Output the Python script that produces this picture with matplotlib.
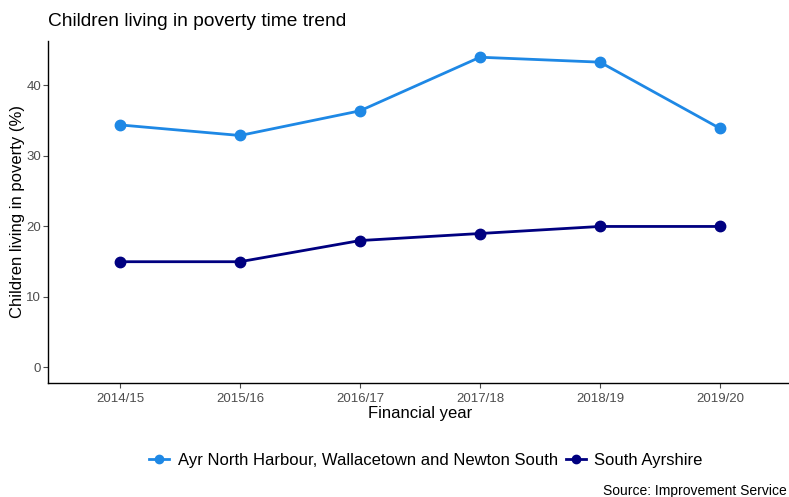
import matplotlib.pyplot as plt
from matplotlib.lines import Line2D

plt.rcParams['font.family'] = ['Liberation Sans', 'DejaVu Sans']

years = ["2014/15", "2015/16", "2016/17", "2017/18", "2018/19", "2019/20"]
ayr_north = [34.4, 32.9, 36.4, 44.0, 43.3, 33.9]
south_ayrshire = [15, 15, 18, 19, 20, 20]

series = [
    ("Ayr North Harbour, Wallacetown and Newton South", ayr_north, "#1E88E5"),
    ("South Ayrshire", south_ayrshire, "#000080"),
]

W, H = 789, 497
fig = plt.figure(figsize=(W / 100, H / 100), dpi=100)
ax = fig.add_axes([48 / W, (H - 383) / H, 744 / W, 342 / H])

x = list(range(len(years)))
handles = []
for name, vals, col in series:
    ax.plot(x, vals, color=col, lw=2.0, marker="o", ms=7.5, solid_capstyle="round")
    handles.append(Line2D([], [], color=col, lw=2.0, marker="o", ms=6, label=name))

ax.set_xlim(-0.6, len(years) - 0.4)
ax.set_ylim(-2.2, 46.3)
ax.set_xticks(x)
ax.set_xticklabels(years)
ax.set_yticks([0, 10, 20, 30, 40])
ax.tick_params(colors="#4D4D4D", labelsize=9.5, length=3.5, width=0.8)
ax.tick_params(axis="y", pad=1.5)
for side in ["top", "right"]:
    ax.spines[side].set_visible(False)
for side in ["left", "bottom"]:
    ax.spines[side].set_linewidth(1.0)
ax.set_xlabel("Financial year", fontsize=12, labelpad=1)
ax.set_ylabel("Children living in poverty (%)", fontsize=12, labelpad=1)

fig.text(48 / W, 1 - 22 / H, "Children living in poverty time trend", fontsize=13.8,
         va="center", ha="left")
fig.legend(handles=handles, loc="center", bbox_to_anchor=(426 / W, 1 - 460 / H),
           ncol=2, frameon=False, fontsize=12, handlelength=1.2, columnspacing=0.5,
           handletextpad=0.5)
fig.text(787 / W, 1 - 491 / H, "Source: Improvement Service", fontsize=10, va="center", ha="right")

fig.savefig("out.png", dpi=100)
